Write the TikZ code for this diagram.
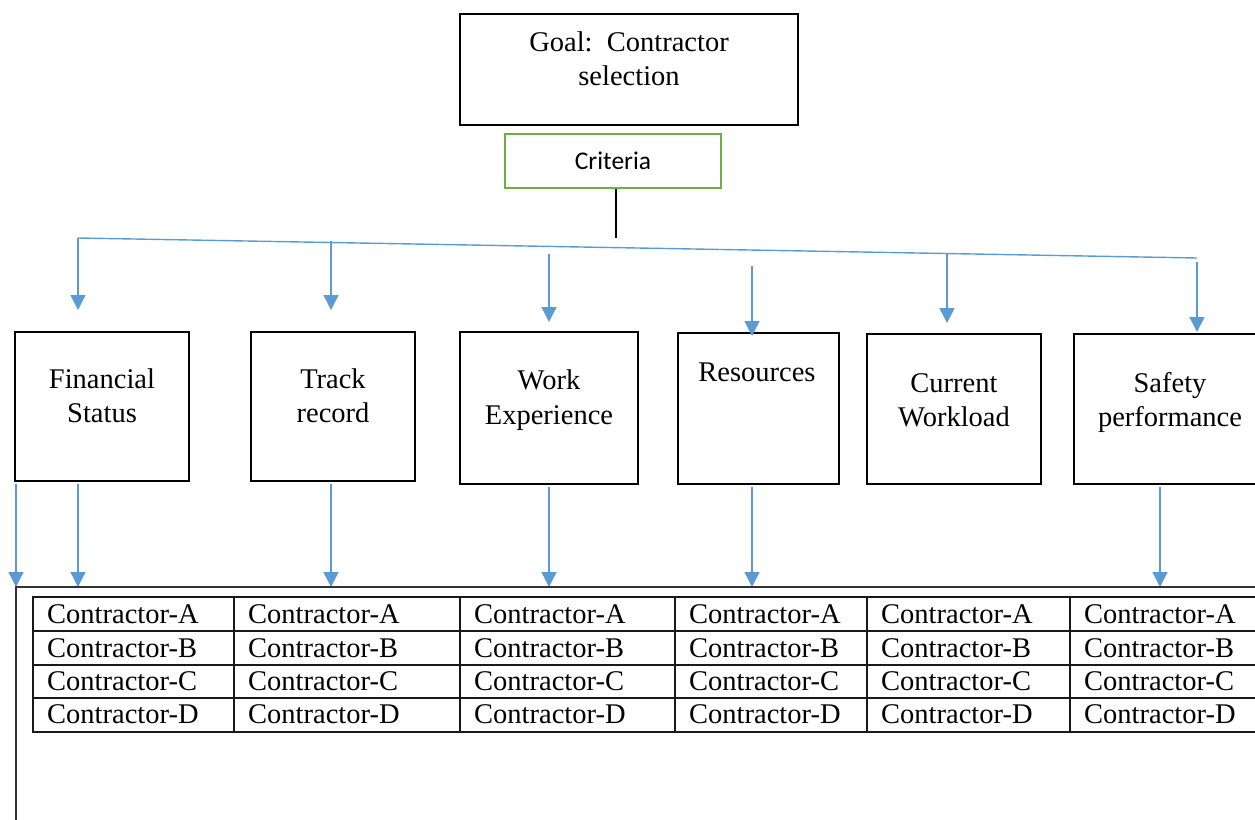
\documentclass[tikz,border=0pt]{standalone}
\usepackage{fontspec}
\setmainfont{Liberation Serif}
\newfontfamily\calibrifont{Carlito}
\usetikzlibrary{arrows.meta}
\definecolor{arrowblue}{RGB}{91,155,213}
\definecolor{critgreen}{RGB}{112,173,71}

\begin{document}
\begin{tikzpicture}[x=1pt,y=1pt,yscale=-1,
  box/.style={draw,line width=2.3pt,inner sep=0pt},
  lbl/.style={anchor=base,inner sep=0pt,font=\fontsize{28.5}{34}\selectfont},
  cell/.style={anchor=base west,inner sep=0pt,font=\fontsize{28.5}{34}\selectfont},
  flow/.style={draw=arrowblue,line width=1.4pt,-{Triangle[length=15pt,width=15pt]}},
  frame/.style={draw=black!80,line width=1.5pt},
  grid/.style={draw=black!90,line width=1.2pt}]
%set diagram size 1255 x 819
\useasboundingbox (0,0) rectangle (1255,819);
\clip (0,0) rectangle (1255,819);

%Shape: Rectangle (goal)
\node[box,minimum width=338,minimum height=111] (goal) at (629,69.5) {};
%Shape: Rectangle (criteria)
\node[box,draw=critgreen,line width=2pt,minimum width=216,minimum height=54,font=\calibrifont\fontsize{25.5}{30}\selectfont] (crit) at (613,161) {Criteria};

%Shape: Rectangle (criteria boxes)
\node[box,minimum width=174,minimum height=149] (fin) at (102,406.5) {};
\node[box,minimum width=164,minimum height=149] (trk) at (333,406.5) {};
\node[box,minimum width=178,minimum height=152] (wrk) at (549,408) {};
\node[box,minimum width=161,minimum height=151] (res) at (758.5,408.5) {};
\node[box,minimum width=174,minimum height=150] (cur) at (954,409) {};
\node[box,minimum width=192,minimum height=150] (saf) at (1170,409) {};

% Text Node
\foreach \x/\y/\t [count=\i] in {629/51/{Goal:\ \ Contractor}, 629/85/selection,
    102/388/Financial, 102/422/Status, 333/388/Track, 333/422/record,
    549/389/Work, 549/424/Experience, 757/381/Resources,
    954/392/Current, 954/426/Workload, 1170/392/Safety, 1170/426/performance}
  \node[lbl] (lbl\i) at (\x,\y) {\t};

%Straight Lines
\coordinate (critdrop) at (616,238);
\draw[line width=1.2pt] (crit.south -| critdrop) -- (critdrop);
\coordinate (busL) at (78,238);
\coordinate (busR) at (1197,258);
\draw[arrowblue,line width=1.4pt] (busL) -- (busR);

%Straight Lines (down to criteria)
\foreach \x/\ya/\yb [count=\i] in {78/238/310, 331/241/310, 549/254/322,
    752/266/336, 947/253/323, 1197/262/332}{
  \coordinate (drop\i) at (\x,\ya);
  \coordinate (tip\i) at (\x,\yb);
  \draw[flow] (drop\i) -- (tip\i);
}

%Straight Lines (down to contractors)
\foreach \x/\b in {16/fin, 78/fin, 331/trk, 549/wrk, 752/res, 1160/saf}{
  \coordinate (in\x) at (\x,587);
  \draw[flow,shorten <=2pt] (\b.south -| in\x) -- (in\x);
}

%Straight Lines (frame)
\draw[frame] (1262,587) -- (in16) -- (16,825);

%Shape: Table
\draw[grid] (1262,597) -- (33,597) -- (33,732) -- (1262,732);
\foreach \y in {631,665,698}
  \draw[grid] (33,\y) -- (1262,\y);
\foreach \x in {234,460,675,867,1070}
  \draw[grid] (\x,597) -- (\x,732);
\foreach \x [count=\c] in {33,234,460,675,867,1070}
  \foreach \r/\y in {A/623,B/657,C/690,D/723}
    \node[cell] (c\c\r) at (\x+14,\y) {Contractor-\r};

\end{tikzpicture}
\end{document}
